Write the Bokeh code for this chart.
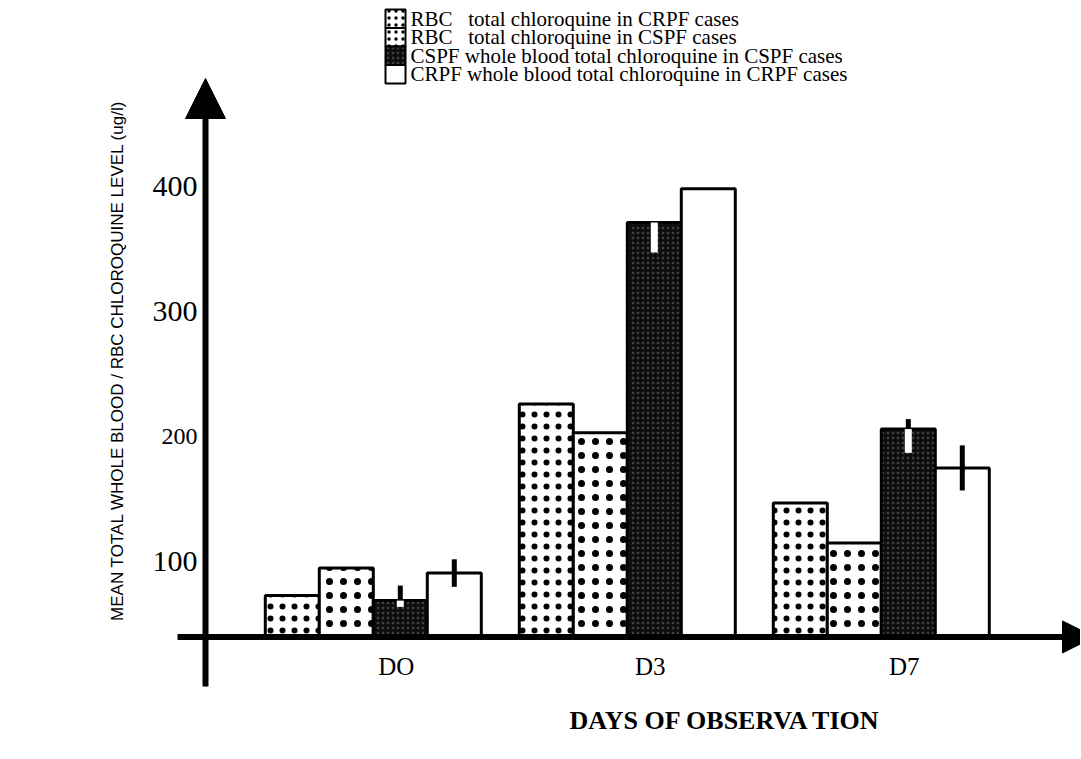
from math import pi
from bokeh.plotting import figure
from bokeh.models import ColumnDataSource, Range1d, Arrow, NormalHead, Label
from bokeh.core.properties import value
from bokeh.embed import file_html
from bokeh.resources import INLINE

# ---------------- data ----------------
days = ["DO", "D3", "D7"]
series_labels = [
    "RBC\u00a0\u00a0\u00a0total chloroquine in CRPF cases",
    "RBC\u00a0\u00a0\u00a0total chloroquine in CSPF cases",
    "CSPF whole blood total chloroquine in CSPF cases",
    "CRPF whole blood total chloroquine in CRPF cases",
]
rbc_crpf = [73, 226, 147]
rbc_cspf = [95, 203, 115]
wb_cspf = [69, 371, 206]
wb_crpf = [91, 398, 175]
wb_cspf_err_up = [12, 0, 8]
wb_cspf_err_down = [5, 24, 19]
wb_crpf_err = [11, 0, 18]
y_ticks = [100, 200, 300, 400]
y_tick_labels = ["100", "200", "300", "400"]
axis_base = 40  # value at which the x axis crosses

y_title = "MEAN TOTAL WHOLE BLOOD / RBC CHLOROQUINE LEVEL (ug/l)"
x_title = "DAYS OF OBSERVA TION"

# ---------------- layout ----------------
W, H = 1080, 758
PX_PER_DAY = 254.0
D0_PX = 372.8
x_start = -D0_PX / PX_PER_DAY
x_end = x_start + W / PX_PER_DAY
PX_PER_UNIT = 1.252
ZERO_PX = 686.5
y_end = ZERO_PX / PX_PER_UNIT
y_start = y_end - H / PX_PER_UNIT


def dx(px):
    return x_start + px / PX_PER_DAY


def dy(py):
    return (ZERO_PX - py) / PX_PER_UNIT


p = figure(width=W, height=H, output_backend="svg", toolbar_location=None,
           x_range=Range1d(x_start, x_end), y_range=Range1d(y_start, y_end),
           x_axis_location=None, y_axis_location=None, min_border=0)
p.outline_line_color = None
p.grid.grid_line_color = None
p.background_fill_color = "white"
p.border_fill_color = "white"

bar_w = 54.0 / PX_PER_DAY
offsets = [(k - 1.5) * bar_w for k in range(4)]
values = [rbc_crpf, rbc_cspf, wb_cspf, wb_crpf]
styles = [
    dict(fill_color="white", hatch_pattern="dot", hatch_color="black",
         hatch_scale=12, hatch_weight=2),
    dict(fill_color="white", hatch_pattern="dot", hatch_color="black",
         hatch_scale=14, hatch_weight=2.5),
    dict(fill_color="#0e0e0e", hatch_pattern="dot", hatch_color="white",
         hatch_alpha=0.22, hatch_scale=5, hatch_weight=1),
    dict(fill_color="white"),
]

xs_all = []
for k in range(4):
    xs = [i + offsets[k] for i in range(len(days))]
    xs_all.append(xs)
    src = ColumnDataSource(dict(x=xs, top=values[k]))
    p.vbar(x="x", top="top", bottom=axis_base, width=bar_w, source=src,
           line_color="black", line_width=3, **styles[k])

# error bars
x3 = xs_all[2]
p.segment(x0=x3, x1=x3, y0=wb_cspf,
          y1=[v + e for v, e in zip(wb_cspf, wb_cspf_err_up)],
          line_color="black", line_width=5)
p.segment(x0=x3, x1=x3, y0=[v - e for v, e in zip(wb_cspf, wb_cspf_err_down)],
          y1=wb_cspf, line_color="white", line_width=7)
x4 = xs_all[3]
p.segment(x0=x4, x1=x4, y0=[v - e for v, e in zip(wb_crpf, wb_crpf_err)],
          y1=[v + e for v, e in zip(wb_crpf, wb_crpf_err)],
          line_color="black", line_width=5)

# axes drawn as arrows
p.add_layout(Arrow(x_start=dx(205), y_start=dy(686), x_end=dx(205), y_end=dy(78),
                   line_width=6, line_color="black",
                   end=NormalHead(size=40, fill_color="black", line_color="black")))
p.add_layout(Arrow(x_start=dx(177), y_start=axis_base, x_end=dx(1094), y_end=axis_base,
                   line_width=6, line_color="black",
                   end=NormalHead(size=32, fill_color="black", line_color="black")))

# tick labels
tick_src = ColumnDataSource(dict(x=[dx(197)] * len(y_ticks), y=y_ticks, text=y_tick_labels,
                                 size=["30px", "24px", "30px", "30px"]))
p.text(x="x", y="y", text="text", source=tick_src, text_align="right",
       text_baseline="middle", text_font=value("Liberation Serif"),
       text_font_size="size", text_color="black")

# category labels
cat_src = ColumnDataSource(dict(x=list(range(len(days))), y=[dy(666)] * len(days), text=days))
p.text(x="x", y="y", text="text", source=cat_src, x_offset=23, text_align="center",
       text_baseline="middle", text_font=value("Liberation Serif"),
       text_font_size="25px", text_color="black")

# titles
p.add_layout(Label(x=dx(117), y=dy(360), text=y_title, angle=pi / 2,
                   text_align="center", text_baseline="middle",
                   text_font="Liberation Sans", text_font_size="17px",
                   text_color="black"))
p.add_layout(Label(x=dx(725), y=dy(720), text=x_title, text_align="center",
                   text_baseline="middle", text_font="Liberation Serif",
                   text_font_size="26px", text_font_style="bold",
                   text_color="black"))

# legend (drawn by hand: a column of touching swatches and their labels)
row_h = 18.5
leg_top = 9
rows = list(range(len(series_labels)))
for k in rows:
    st = dict(styles[k])
    if "hatch_scale" in st and k < 2:
        st["hatch_scale"] = 7
        st["hatch_weight"] = 1.5
    p.quad(left=[dx(385)], right=[dx(405)],
           top=[dy(leg_top + k * row_h)], bottom=[dy(leg_top + (k + 1) * row_h)],
           line_color="black", line_width=2, **st)
leg_src = ColumnDataSource(dict(x=[dx(410)] * len(rows),
                                y=[dy(leg_top + (k + 0.5) * row_h) for k in rows],
                                text=series_labels))
p.text(x="x", y="y", text="text", source=leg_src, text_align="left",
       text_baseline="middle", text_font=value("Liberation Serif"),
       text_font_size="21px", text_color="black")

open("out.html", "w").write(file_html(p, INLINE))
